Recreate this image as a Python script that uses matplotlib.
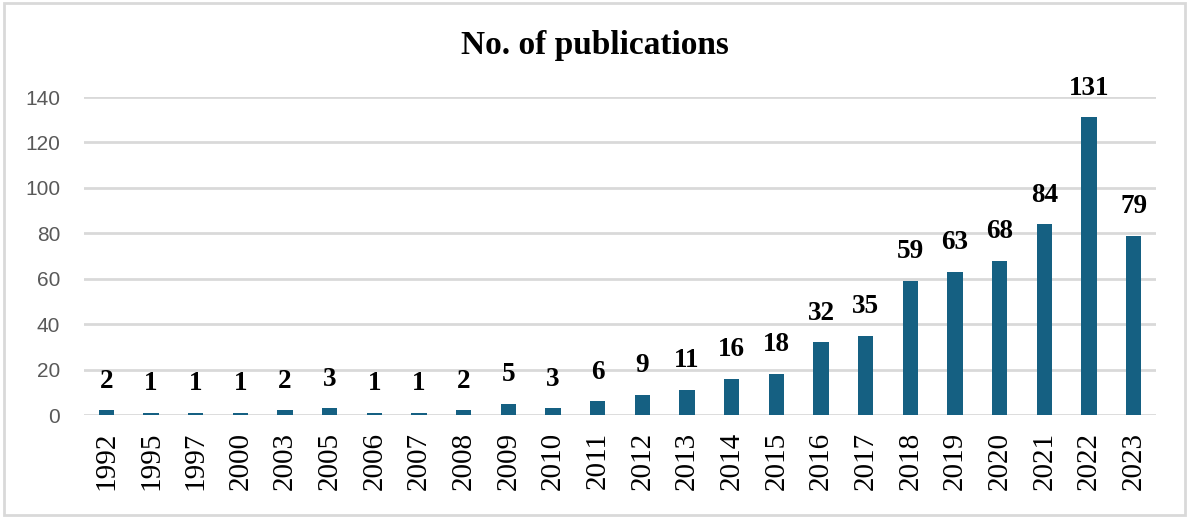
import numpy as np
import matplotlib.pyplot as plt
from matplotlib.patches import Rectangle

# данные
years = ['1992', '1995', '1997', '2000', '2003', '2005', '2006', '2007', '2008',
         '2009', '2010', '2011', '2012', '2013', '2014', '2015', '2016', '2017',
         '2018', '2019', '2020', '2021', '2022', '2023']
counts = [2, 1, 1, 1, 2, 3, 1, 1, 2, 5, 3, 6, 9, 11, 16, 18, 32, 35, 59, 63, 68, 84, 131, 79]
yticks = [0, 20, 40, 60, 80, 100, 120, 140]

bar_color = '#156082'
grid_color = '#d9d9d9'

fig = plt.figure(figsize=(11.89, 5.18), dpi=100)
ax = fig.add_axes([0.0706, 0.1988, 0.9016, 0.6139])

x = np.arange(len(years))
bars = ax.bar(x, counts, width=0.34, color=bar_color, zorder=3)

# подписи значений над столбцами
for xi, v in zip(x, counts):
    ax.annotate(str(v), (xi, v), xytext=(0, 12), textcoords='offset points',
                ha='center', va='bottom', fontsize=19.5, fontweight='bold',
                family='Liberation Serif', color='black', zorder=4)

ax.set_xlim(-0.5, len(years) - 0.5)
ax.set_ylim(0, 140)
ax.set_yticks(yticks)
ax.set_xticks(x)
ax.set_xticklabels(years, rotation=90, family='Liberation Serif', fontsize=21, color='black')
for lbl in ax.get_yticklabels():
    lbl.set_family('Liberation Sans')
    lbl.set_fontsize(15)
    lbl.set_color('#595959')
ax.tick_params(axis='both', length=0)
ax.tick_params(axis='y', pad=17)
ax.tick_params(axis='x', pad=12)
ax.grid(axis='y', color=grid_color, linewidth=2, zorder=0)
for s in ax.spines.values():
    s.set_visible(False)

fig.text(0.5, 0.912, 'No. of publications', ha='center', va='center',
         fontsize=24, fontweight='bold', family='Liberation Serif')

# рамка вокруг диаграммы
fig.patches.append(Rectangle((0.003, 0.005), 0.994, 0.99, transform=fig.transFigure,
                             fill=False, edgecolor=grid_color, linewidth=2))

fig.savefig('out.png', dpi=100)
